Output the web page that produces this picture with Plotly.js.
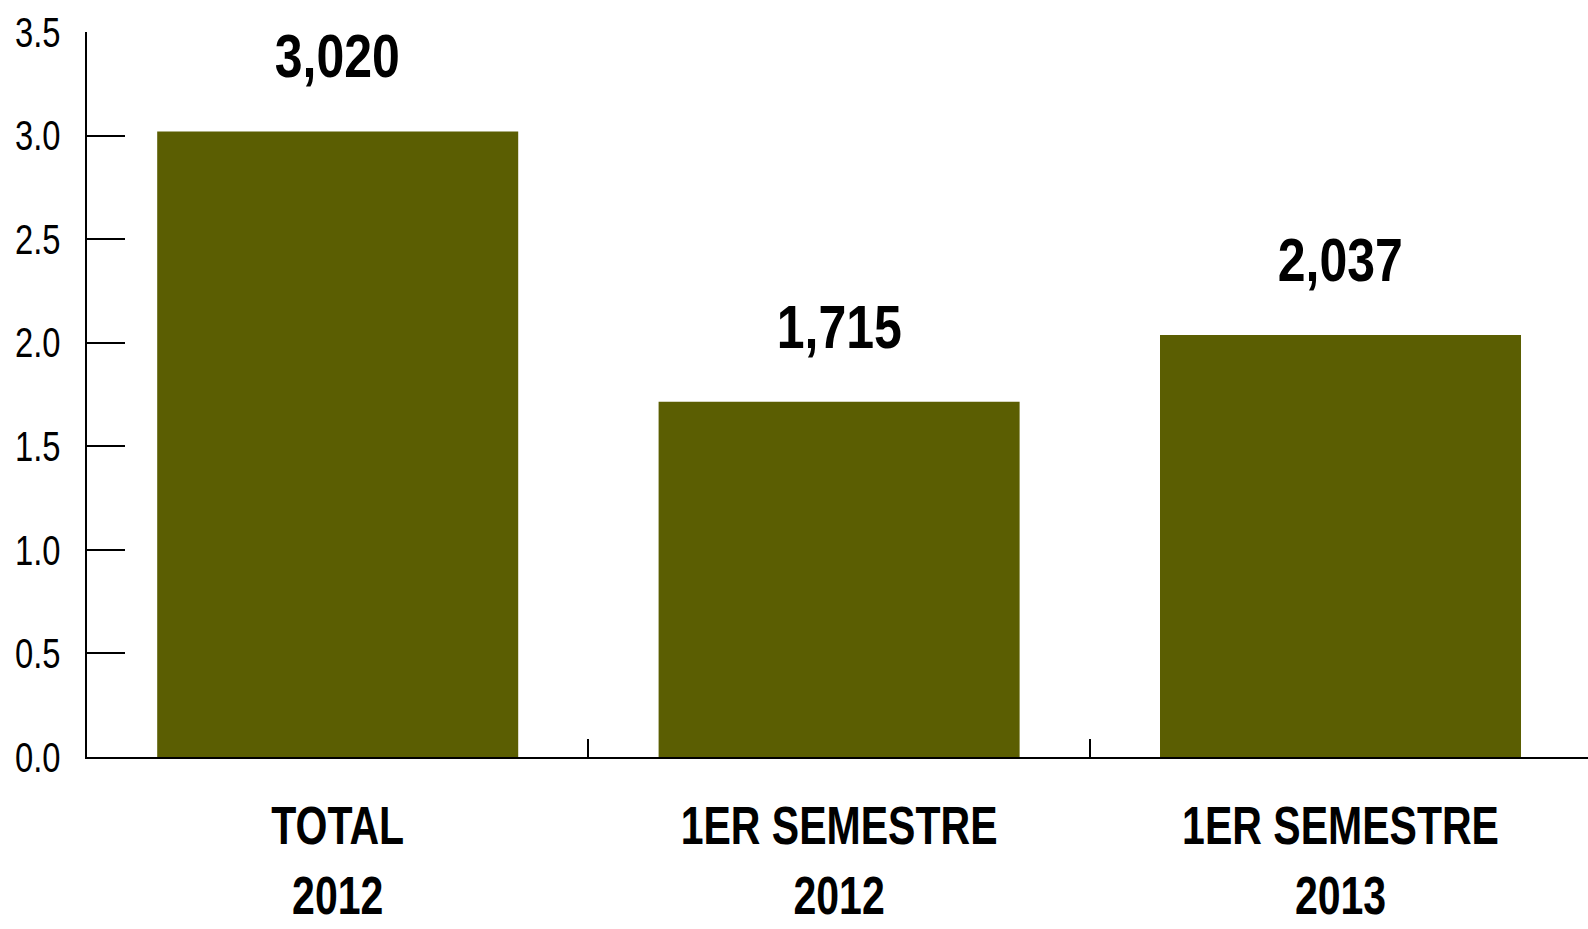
<!DOCTYPE html>
<html>
<head>
<meta charset="utf-8">
<script src="https://cdn.plot.ly/plotly-3.0.1.min.js"></script>
<style>html,body{margin:0;padding:0;background:#fff;}#chart{width:1588px;height:929px;}</style>
</head>
<body>
<div id="chart"></div>
<script>
const categories = ["TOTAL<br>2012", "1ER SEMESTRE<br>2012", "1ER SEMESTRE<br>2013"];
const values = [3.020, 1.715, 2.037];
const valueLabels = ["3,020", "1,715", "2,037"];
const yTickVals = [0, 0.5, 1, 1.5, 2, 2.5, 3, 3.5];

const FONT = "'Liberation Sans', Arial, sans-serif";
const BAR = "#5b5e02";

const trace = {
  type: "bar",
  x: categories,
  y: values,
  width: 0.72,
  marker: {color: BAR, line: {width: 0}},
  hoverinfo: "skip"
};

const annotations = categories.map((c, i) => ({
  x: c, y: values[i], xref: "x", yref: "y",
  text: valueLabels[i], showarrow: false,
  yanchor: "bottom", yshift: 39,
  font: {family: FONT, size: 61, color: "#000", weight: "bold"}
}));

const layout = {
  width: 1588, height: 929,
  margin: {l: 87, r: 0, t: 32, b: 172, pad: 0},
  paper_bgcolor: "#fff", plot_bgcolor: "#fff",
  showlegend: false,
  xaxis: {
    type: "category",
    range: [-0.5, 2.4936],
    showline: true, linecolor: "#000", linewidth: 2,
    ticks: "inside", ticklen: 18, tickwidth: 2, tickcolor: "#000",
    tickson: "boundaries",
    showgrid: false, zeroline: false,
    ticklabelstandoff: 20,
    tickfont: {family: FONT, size: 54, color: "#000", weight: "bold"},
    fixedrange: true
  },
  yaxis: {
    range: [0, 3.5],
    tickvals: yTickVals,
    tickformat: ".1f",
    showline: true, linecolor: "#000", linewidth: 2,
    ticks: "inside", ticklen: 38, tickwidth: 2, tickcolor: "#000",
    showgrid: false, zeroline: false,
    ticklabelstandoff: 16,
    tickfont: {family: FONT, size: 42, color: "#000"},
    fixedrange: true
  },
  annotations: annotations
};

// narrow the glyphs horizontally around each text's anchor (no condensed font installed)
function condense(selector, s) {
  document.querySelectorAll(selector).forEach(t => {
    const x = parseFloat(t.getAttribute("x")) || 0;
    const prev = t.getAttribute("transform") || "";
    t.setAttribute("transform", prev + " translate(" + x + ",0) scale(" + s + ",1) translate(" + (-x) + ",0)");
  });
}

Plotly.newPlot("chart", [trace], layout, {displayModeBar: false, staticPlot: true}).then(() => {
  condense("#chart .xtick text", 0.76);
  condense("#chart .ytick text", 0.78);
  condense("#chart .annotation-text", 0.82);
});
</script>
</body>
</html>
